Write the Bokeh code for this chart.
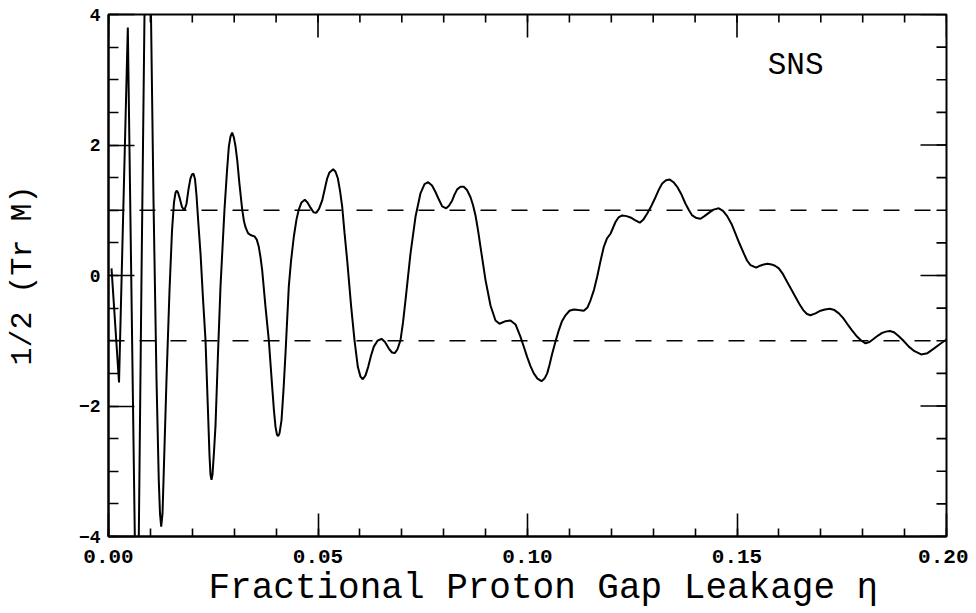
import math
from bokeh.plotting import figure
from bokeh.models import FixedTicker, Span, Label, Range1d, Title
from bokeh.embed import file_html
from bokeh.resources import INLINE

# Fractional proton gap leakage (eta) and 1/2 Tr M
eta = [0.00072, 0.00251, 0.00461, 0.00628, 0.00675, 0.00723, 0.00788, 0.00859,
       0.00938, 0.01014, 0.01074, 0.01146, 0.01200, 0.01229, 0.01258, 0.01289,
       0.01313, 0.01384, 0.01456, 0.01516, 0.01563, 0.01599, 0.01625, 0.01659,
       0.01706, 0.01754, 0.01811, 0.01862, 0.01909, 0.01957, 0.01993, 0.02029,
       0.02064, 0.02100, 0.02148, 0.02196, 0.02255, 0.02315, 0.02370, 0.02410,
       0.02434, 0.02458, 0.02482, 0.02513, 0.02554, 0.02613, 0.02673, 0.02768,
       0.02828, 0.02871, 0.02912, 0.02952, 0.02990, 0.03031, 0.03072, 0.03126,
       0.03191, 0.03234, 0.03270, 0.03329, 0.03389, 0.03437, 0.03484, 0.03539,
       0.03587, 0.03628, 0.03668, 0.03747, 0.03826, 0.03907, 0.03950, 0.03986,
       0.04021, 0.04050, 0.04081, 0.04129, 0.04177, 0.04224, 0.04303, 0.04356,
       0.04422, 0.04487, 0.04542, 0.04606, 0.04685, 0.04749, 0.04821, 0.04893,
       0.04957, 0.05024, 0.05100, 0.05167, 0.05220, 0.05274, 0.05363, 0.05418,
       0.05473, 0.05525, 0.05578, 0.05632, 0.05697, 0.05792, 0.05871, 0.05950,
       0.06014, 0.06069, 0.06134, 0.06198, 0.06265, 0.06332, 0.06420, 0.06515,
       0.06599, 0.06690, 0.06766, 0.06833, 0.06897, 0.06969, 0.07029, 0.07088,
       0.07208, 0.07327, 0.07446, 0.07542, 0.07630, 0.07721, 0.07804, 0.07888,
       0.07964, 0.08060, 0.08126, 0.08203, 0.08258, 0.08322, 0.08401, 0.08480,
       0.08556, 0.08640, 0.08699, 0.08759, 0.08818, 0.08878, 0.08998, 0.09117,
       0.09236, 0.09332, 0.09475, 0.09594, 0.09714, 0.09833, 0.09916, 0.09993,
       0.10071, 0.10150, 0.10238, 0.10334, 0.10406, 0.10470, 0.10525, 0.10589,
       0.10668, 0.10747, 0.10823, 0.10907, 0.11002, 0.11105, 0.11217, 0.11344,
       0.11432, 0.11504, 0.11587, 0.11663, 0.11742, 0.11821, 0.11897, 0.11981,
       0.12100, 0.12172, 0.12260, 0.12363, 0.12458, 0.12565, 0.12680, 0.12768,
       0.12857, 0.12959, 0.13055, 0.13138, 0.13215, 0.13305, 0.13396, 0.13484,
       0.13573, 0.13675, 0.13771, 0.13854, 0.13931, 0.14033, 0.14129, 0.14224,
       0.14327, 0.14439, 0.14566, 0.14666, 0.14766, 0.14869, 0.14964, 0.15059,
       0.15162, 0.15239, 0.15322, 0.15458, 0.15549, 0.15640, 0.15728, 0.15823,
       0.15907, 0.15998, 0.16098, 0.16198, 0.16301, 0.16396, 0.16492, 0.16580,
       0.16670, 0.16754, 0.16874, 0.16993, 0.17100, 0.17215, 0.17327, 0.17430,
       0.17530, 0.17630, 0.17745, 0.17869, 0.17971, 0.18067, 0.18162, 0.18265,
       0.18365, 0.18465, 0.18556, 0.18647, 0.18747, 0.18862, 0.18973, 0.19100,
       0.19236, 0.19396, 0.19546, 0.19697, 0.19845, 0.20000]

half_trace = [0.11, -1.64, 3.80, -4.00, -5.20, -4.00, 0.00, 4.00,
              5.50, 4.00, 1.15, -1.60, -3.14, -3.65, -3.85, -3.65,
              -3.14, -1.60, -0.23, 0.69, 1.12, 1.27, 1.30, 1.27,
              1.17, 1.05, 1.00, 1.10, 1.32, 1.49, 1.55, 1.56,
              1.48, 1.23, 0.77, 0.34, -0.35, -0.99, -2.00, -2.75,
              -3.05, -3.13, -3.05, -2.75, -2.30, -1.20, -0.17, 1.01,
              1.60, 1.97, 2.13, 2.19, 2.12, 1.98, 1.77, 1.40,
              1.01, 0.83, 0.74, 0.65, 0.62, 0.61, 0.60, 0.55,
              0.44, 0.28, 0.08, -0.48, -0.99, -1.71, -2.08, -2.32,
              -2.44, -2.46, -2.42, -2.22, -1.75, -1.20, -0.17, 0.22,
              0.59, 0.86, 1.01, 1.12, 1.16, 1.12, 1.04, 0.97,
              0.96, 1.02, 1.15, 1.34, 1.49, 1.58, 1.63, 1.59,
              1.49, 1.30, 1.05, 0.66, 0.23, -0.48, -0.99, -1.40,
              -1.55, -1.59, -1.53, -1.40, -1.23, -1.09, -1.00, -0.97,
              -1.02, -1.12, -1.18, -1.19, -1.13, -0.99, -0.72, -0.38,
              0.34, 0.90, 1.26, 1.40, 1.43, 1.38, 1.28, 1.16,
              1.06, 1.03, 1.07, 1.15, 1.24, 1.32, 1.36, 1.36,
              1.31, 1.20, 1.08, 0.92, 0.70, 0.44, -0.07, -0.46,
              -0.69, -0.74, -0.70, -0.69, -0.75, -0.94, -1.10, -1.25,
              -1.39, -1.50, -1.58, -1.62, -1.58, -1.50, -1.37, -1.20,
              -1.01, -0.84, -0.70, -0.61, -0.54, -0.52, -0.53, -0.54,
              -0.49, -0.38, -0.22, -0.02, 0.22, 0.44, 0.57, 0.64,
              0.82, 0.89, 0.92, 0.91, 0.89, 0.85, 0.81, 0.86,
              0.95, 1.07, 1.20, 1.32, 1.41, 1.46, 1.47, 1.43,
              1.36, 1.24, 1.10, 1.00, 0.92, 0.88, 0.87, 0.91,
              0.96, 1.01, 1.03, 0.99, 0.91, 0.79, 0.64, 0.49,
              0.34, 0.23, 0.16, 0.12, 0.15, 0.17, 0.18, 0.17,
              0.15, 0.11, 0.02, -0.10, -0.22, -0.33, -0.44, -0.53,
              -0.59, -0.61, -0.58, -0.54, -0.52, -0.51, -0.53, -0.58,
              -0.65, -0.74, -0.84, -0.94, -1.00, -1.04, -1.02, -0.97,
              -0.92, -0.88, -0.86, -0.85, -0.87, -0.93, -1.00, -1.09,
              -1.16, -1.21, -1.19, -1.12, -1.05, -0.98]

x_ticks = [0.0, 0.05, 0.10, 0.15, 0.20]
x_tick_labels = ["0.00", "0.05", "0.10", "0.15", "0.20"]
x_minor = [round(0.01 * k, 2) for k in range(21)]
y_ticks = [-4, -2, 0, 2, 4]
y_tick_labels = ["\u22124", "\u22122", "0", "2", "4"]
y_minor = [-4 + 0.5 * k for k in range(17)]
band_levels = [-1.0, 1.0]

x_title = "Fractional Proton Gap Leakage \u03b7"
y_title = "1/2 (Tr M)"
tag = "SNS"

FONT = "Liberation Mono"
X0, X1, Y0, Y1 = 0.0, 0.2, -4.0, 4.0

p = figure(frame_width=838, frame_height=522,
           x_range=Range1d(X0, X1), y_range=Range1d(Y0, Y1),
           output_backend="svg", toolbar_location=None,
           min_border_left=108, min_border_right=22,
           min_border_top=14, min_border_bottom=40,
           background_fill_color="white", border_fill_color="white")
p.xgrid.visible = False
p.ygrid.visible = False
p.outline_line_color = "black"
p.outline_line_width = 2


def style_axis(ax, ticker, major_len, minor_len):
    ax.ticker = ticker
    ax.axis_line_color = "black"
    ax.axis_line_width = 2
    ax.major_tick_line_color = "black"
    ax.major_tick_line_width = 1.6
    ax.minor_tick_line_color = "black"
    ax.minor_tick_line_width = 1.6
    ax.major_tick_in = major_len
    ax.major_tick_out = 0
    ax.minor_tick_in = minor_len
    ax.minor_tick_out = 0


style_axis(p.xaxis[0], FixedTicker(ticks=x_ticks, minor_ticks=x_minor), 23, 8)
style_axis(p.yaxis[0], FixedTicker(ticks=y_ticks, minor_ticks=y_minor), 26, 10)

p.xaxis.major_label_overrides = dict(zip(x_ticks, x_tick_labels))
p.yaxis.major_label_overrides = dict(zip(y_ticks, y_tick_labels))
for ax, size in ((p.xaxis[0], "21px"), (p.yaxis[0], "18px")):
    ax.major_label_text_font = FONT
    ax.major_label_text_font_size = size
    ax.major_label_text_font_style = "bold"
    ax.major_label_text_color = "black"

p.xaxis.major_label_standoff = 13

p.yaxis.axis_label = y_title
p.yaxis.axis_label_text_font = FONT
p.yaxis.axis_label_text_font_style = "normal"
p.yaxis.axis_label_text_color = "black"
p.yaxis.axis_label_text_font_size = "30px"
p.yaxis.major_label_standoff = 8
p.yaxis.axis_label_standoff = 36

# inward ticks on the top and right edges of the frame (screen-length rays)
tick_style = dict(line_color="black", line_width=1.6, length_units="screen")
p.ray(x=x_minor, y=[Y1] * len(x_minor), length=8, angle=-math.pi / 2, **tick_style)
p.ray(x=x_ticks, y=[Y1] * len(x_ticks), length=23, angle=-math.pi / 2, **tick_style)
p.ray(x=[X1] * len(y_minor), y=y_minor, length=10, angle=math.pi, **tick_style)
p.ray(x=[X1] * len(y_ticks), y=y_ticks, length=26, angle=math.pi, **tick_style)

for lvl in band_levels:
    p.add_layout(Span(location=lvl, dimension="width", line_color="black",
                      line_width=1.6, line_dash="16 15"))

p.line(eta, half_trace, line_color="black", line_width=2)

# x-axis title, set to the right of centre as in the original
p.add_layout(Title(text=x_title, align="left", offset=100, standoff=0,
                   text_font=FONT, text_font_size="36px",
                   text_font_style="normal", text_color="black"), "below")

p.add_layout(Label(x=0.164, y=3.22, text=tag, text_font=FONT,
                   text_font_size="31px", text_align="center",
                   text_baseline="middle", text_color="black"))

open("out.html", "w").write(file_html(p, INLINE))
